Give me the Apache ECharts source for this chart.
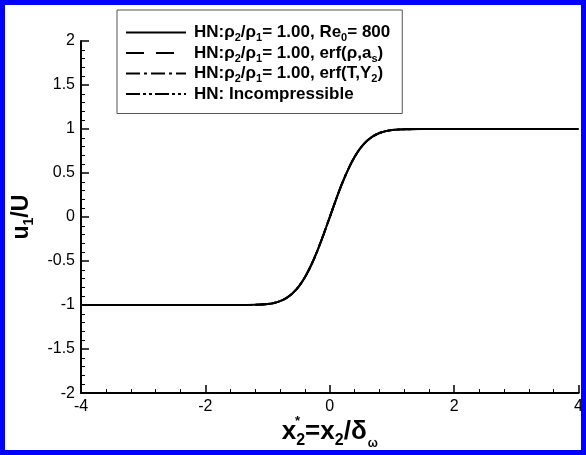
<!DOCTYPE html>
<html>
<head>
<meta charset="utf-8">
<script src="https://cdn.jsdelivr.net/npm/echarts@6/dist/echarts.min.js"></script>
<style>
html,body{margin:0;padding:0;background:#fff;}
#c{width:586px;height:455px;}
</style>
</head>
<body>
<div id="c"></div>
<script>
// x*2 positions and u1/U values
const xVals = [-4, -3, -2, -1.5, -1.2, -1.0, -0.9, -0.8, -0.7, -0.6, -0.5, -0.4, -0.3, -0.2, -0.1, 0, 0.1, 0.2, 0.3, 0.4, 0.5, 0.6, 0.7, 0.8, 0.9, 1.0, 1.2, 1.5, 2, 3, 4];
const uVals = [-1, -1, -1, -1, -0.997, -0.988, -0.976, -0.955, -0.92, -0.867, -0.79, -0.684, -0.548, -0.384, -0.198, 0, 0.198, 0.384, 0.548, 0.684, 0.79, 0.867, 0.92, 0.955, 0.976, 0.988, 0.997, 1, 1, 1, 1];
const seriesNames = ['HN:ρ2/ρ1= 1.00, Re0= 800', 'HN:ρ2/ρ1= 1.00, erf(ρ,as)', 'HN:ρ2/ρ1= 1.00, erf(T,Y2)', 'HN: Incompressible'];
const legendRich = [
  '{b|HN:ρ}{s|2}{b|/ρ}{s|1}{b|= 1.00, Re}{s|0}{b|= 800}',
  '{b|HN:ρ}{s|2}{b|/ρ}{s|1}{b|= 1.00, erf(ρ,a}{s|s}{b|)}',
  '{b|HN:ρ}{s|2}{b|/ρ}{s|1}{b|= 1.00, erf(T,Y}{s|2}{b|)}',
  '{b|HN: Incompressible}'
];
const dashes = ['solid', [18, 12], [14, 4, 3, 4], [14, 3, 3, 3, 3, 3]];
const xTicks = {min: -4, max: 4, interval: 2};
const yTicks = {min: -2, max: 2, interval: 0.5};

const FONT = '"Liberation Sans", Arial, sans-serif';
const pts = xVals.map((x, i) => [x, uVals[i]]);

const chart = echarts.init(document.getElementById('c'), null, {renderer: 'canvas'});
chart.setOption({
  animation: false,
  backgroundColor: '#fff',
  grid: {left: 81, right: 7, top: 41, bottom: 58, containLabel: false},
  xAxis: {
    type: 'value', min: xTicks.min, max: xTicks.max, interval: xTicks.interval,
    axisLine: {onZero: false, lineStyle: {color: '#000', width: 2}},
    axisTick: {inside: true, length: 8, lineStyle: {color: '#000', width: 1.5}},
    minorTick: {show: true, splitNumber: 5, length: 4, lineStyle: {color: '#000', width: 1}},
    splitLine: {show: false},
    axisLabel: {color: '#000', fontSize: 16, fontFamily: FONT, margin: 5},
    name: '{b|x}{s|2}{b|=x}{s|2}{b|/δ}{w|ω}',
    nameLocation: 'middle', nameGap: 19,
    nameTextStyle: {
      rich: {
        b: {fontSize: 26, fontWeight: 'bold', fontFamily: FONT, color: '#000', lineHeight: 30, verticalAlign: 'middle'},
        s: {fontSize: 16, fontWeight: 'bold', fontFamily: FONT, color: '#000', lineHeight: 30, verticalAlign: 'bottom', padding: [0, 0, -2, 0]},
        w: {fontSize: 12, fontWeight: 'bold', fontFamily: FONT, color: '#000', lineHeight: 30, verticalAlign: 'bottom', padding: [0, 0, -3, 1]}
      }
    }
  },
  yAxis: {
    type: 'value', min: yTicks.min, max: yTicks.max, interval: yTicks.interval,
    axisLine: {onZero: false, lineStyle: {color: '#000', width: 2}},
    axisTick: {inside: true, length: 8, lineStyle: {color: '#000', width: 1.5}},
    minorTick: {show: true, splitNumber: 5, length: 4, lineStyle: {color: '#000', width: 1}},
    splitLine: {show: false},
    axisLabel: {color: '#000', fontSize: 16, fontFamily: FONT, margin: 6},
    name: '{b|u}{s|1}{b|/U}',
    nameLocation: 'middle', nameGap: 26, nameRotate: 90,
    nameTextStyle: {
      rich: {
        b: {fontSize: 23, fontWeight: 'bold', fontFamily: FONT, color: '#000', lineHeight: 26},
        s: {fontSize: 14, fontWeight: 'bold', fontFamily: FONT, color: '#000', lineHeight: 26, verticalAlign: 'bottom', padding: [0, 0, -2, 0]}
      }
    }
  },
  legend: {
    show: true, orient: 'vertical', left: 117, top: 10,
    backgroundColor: '#fff', borderColor: '#555', borderWidth: 1,
    padding: [14, 12, 11, 8], itemGap: 1, itemWidth: 60, itemHeight: 12,
    data: seriesNames,
    itemStyle: {opacity: 0},
    lineStyle: {width: 2, color: '#000'},
    formatter: name => legendRich[seriesNames.indexOf(name)],
    textStyle: {
      color: '#000', padding: [0, 0, 0, 3],
      rich: {
        b: {fontSize: 17, fontWeight: 'bold', fontFamily: FONT, color: '#000', lineHeight: 18},
        s: {fontSize: 11, fontWeight: 'bold', fontFamily: FONT, color: '#000', lineHeight: 18, verticalAlign: 'bottom', padding: [0, 0, -2, 0]}
      }
    }
  },
  series: seriesNames.map((n, i) => ({
    name: n, type: 'line', data: pts, smooth: 0.3, showSymbol: false, symbol: 'none',
    lineStyle: {color: '#000', width: 2, type: dashes[i]},
    itemStyle: {color: '#000'},
    z: 10 - i
  })),
  graphic: [
    {type: 'rect', shape: {x: 2.5, y: 2.5, width: 581, height: 450}, style: {fill: 'none', stroke: '#0000ff', lineWidth: 5}, z: 100},
    {type: 'text', left: 295, top: 415, style: {text: '*', font: 'bold 13px ' + FONT, fill: '#000'}}
  ]
});
</script>
</body>
</html>
